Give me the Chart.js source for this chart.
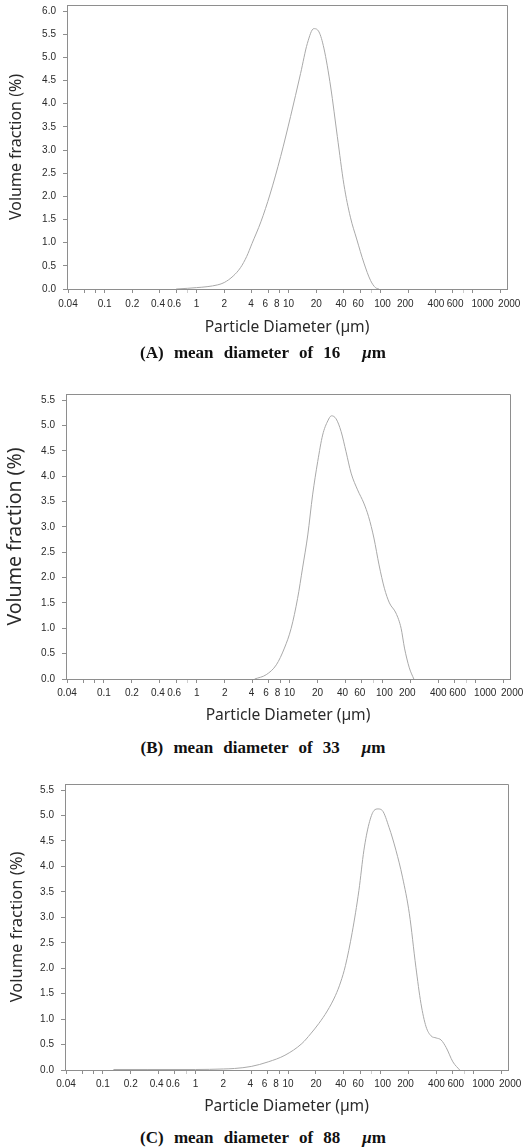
<!DOCTYPE html>
<html>
<head>
<meta charset="utf-8">
<script src="https://cdn.jsdelivr.net/npm/chart.js@4.4.1/dist/chart.umd.min.js"></script>
<style>
  html, body { margin: 0; padding: 0; background: #fff; }
  body { width: 526px; height: 1148px; position: relative; overflow: hidden; }
  .plot { position: absolute; left: 0; width: 526px; height: 345px; }
  .caption {
    position: absolute; left: 0; width: 526px; text-align: center;
    font-family: "Liberation Serif", "DejaVu Serif", serif; font-weight: bold;
    font-size: 17px; line-height: 20px; color: #111; word-spacing: 6px;
  }
  .caption .unit { margin-left: 22px; }
</style>
</head>
<body>
<div class="plot" style="top:0px"><canvas id="chartA"></canvas></div>
<div class="caption" style="top:343px">(A) mean diameter of 16<span class="unit"><i>μ</i>m</span></div>
<div class="plot" style="top:385px"><canvas id="chartB"></canvas></div>
<div class="caption" style="top:738px">(B) mean diameter of 33<span class="unit"><i>μ</i>m</span></div>
<div class="plot" style="top:775px"><canvas id="chartC"></canvas></div>
<div class="caption" style="top:1128px">(C) mean diameter of 88<span class="unit"><i>μ</i>m</span></div>

<script>
// Particle size distributions (diameter in µm, volume fraction in %)
const diameterA = [0.6, 0.8, 1.0, 1.3, 1.7, 2.0, 2.5, 3.0, 3.5, 4.0, 5.0, 6.3, 8.2, 10.5, 13.5, 16.0, 18.8, 21.4, 24.2, 28.7, 33.9, 40, 47, 55, 66, 78, 88, 96];
const volumeA   = [0.0, 0.015, 0.03, 0.05, 0.09, 0.14, 0.28, 0.46, 0.70, 0.98, 1.45, 2.05, 2.86, 3.72, 4.65, 5.3, 5.62, 5.55, 5.2, 4.36, 3.29, 2.25, 1.55, 1.08, 0.56, 0.18, 0.03, 0.0];

const diameterB = [4.2, 5.6, 7.2, 8.8, 10.4, 12.2, 13.8, 15.7, 17.7, 20.1, 22.7, 25.8, 28.3, 31.7, 35.9, 40.6, 46, 54, 63, 71, 81, 92, 105, 119, 140, 159, 173, 195, 218];
const volumeB   = [0.0, 0.085, 0.28, 0.61, 1.0, 1.59, 2.19, 2.84, 3.63, 4.29, 4.81, 5.09, 5.19, 5.13, 4.88, 4.48, 4.06, 3.73, 3.47, 3.2, 2.78, 2.25, 1.79, 1.5, 1.3, 1.0, 0.61, 0.22, 0.0];

const diameterC = [0.13, 0.3, 1.0, 2.0, 2.64, 4.0, 6.1, 9.25, 14.1, 17.5, 21.4, 26.5, 32.4, 37, 41.6, 49.2, 58.2, 65.9, 74.8, 84.8, 93.7, 104, 123, 146, 172, 204, 240, 272, 309, 350, 397, 449, 510, 602, 713];
const volumeC   = [0.01, 0.01, 0.01, 0.02, 0.03, 0.07, 0.16, 0.29, 0.52, 0.71, 0.91, 1.16, 1.46, 1.73, 2.05, 2.7, 3.53, 4.32, 4.84, 5.1, 5.13, 5.1, 4.77, 4.32, 3.79, 3.07, 2.02, 1.31, 0.85, 0.67, 0.63, 0.59, 0.44, 0.16, 0.0];

// Axis ticks
const xTickValues = [0.04, 0.06, 0.08, 0.1, 0.2, 0.4, 0.6, 0.8, 1, 2, 4, 6, 8, 10, 20, 40, 60, 80, 100, 200, 400, 600, 800, 1000, 2000];
const xTickLabels = ['0.04', '0.1', '0.2', '0.4', '0.6', '1', '2', '4', '6', '8', '10', '20', '40', '60', '100', '200', '400', '600', '1000', '2000'];
const xMinorTicks = [0.8, 80, 800];
const yTicksA = [0, 0.5, 1, 1.5, 2, 2.5, 3, 3.5, 4, 4.5, 5, 5.5, 6];
const yTicksBC = [0, 0.5, 1, 1.5, 2, 2.5, 3, 3.5, 4, 4.5, 5, 5.5];

const xTitle = 'Particle Diameter (µm)';
const yTitle = 'Volume fraction (%)';

// Sideways nudges (px) that keep crowded diameter labels apart
const xLabelNudge = { '0.4': -2, '0.6': -2, '4': -1, '6': -3, '8': -3, '40': -3, '60': -2, '100': 2, '200': -3, '600': 3, '1000': 10, '2000': 9 };

const FRAME = '#8e8e8e';
const CURVE = '#a9a9a9';
const TEXT = '#2a2a2a';
const TICK_FONT_SIZE = 10;
const tickFont = { family: '"Liberation Sans", Arial, sans-serif', size: TICK_FONT_SIZE };

// Top and right edges of the plot frame
const framePlugin = {
  id: 'frame',
  afterDraw(chart) {
    const { ctx, chartArea: { left, top, right, bottom } } = chart;
    ctx.save();
    ctx.strokeStyle = FRAME;
    ctx.lineWidth = 1;
    ctx.beginPath();
    ctx.moveTo(Math.round(left) + 0.5, Math.round(top) + 0.5);
    ctx.lineTo(Math.round(right) + 0.5, Math.round(top) + 0.5);
    ctx.lineTo(Math.round(right) + 0.5, Math.round(bottom) + 0.5);
    ctx.stroke();
    ctx.restore();
  }
};

// Diameter labels placed at the log-scale pixel of each value
const xLabelPlugin = {
  id: 'xLabels',
  afterDraw(chart, args, opts) {
    const s = chart.scales.x;
    const ctx = chart.ctx;
    ctx.save();
    ctx.font = TICK_FONT_SIZE + 'px ' + tickFont.family;
    ctx.fillStyle = TEXT;
    ctx.textAlign = 'center';
    ctx.textBaseline = 'middle';
    const y = s.top + 4 + opts.pad + TICK_FONT_SIZE * 0.6;
    xTickLabels.forEach((lbl) => {
      const px = s.getPixelForValue(Number(lbl)) + (xLabelNudge[lbl] || 0);
      ctx.fillText(lbl, px, y);
    });
    ctx.restore();
  }
};

function makeChart(id, xs, ys, yTicks, g) {
  const points = xs.map((x, i) => ({ x: x, y: ys[i] }));
  return new Chart(document.getElementById(id), {
    type: 'line',
    data: {
      datasets: [{
        data: points,
        borderColor: CURVE,
        borderWidth: 1,
        pointRadius: 0,
        fill: false,
        cubicInterpolationMode: 'monotone'
      }]
    },
    options: {
      responsive: true,
      maintainAspectRatio: false,
      animation: false,
      layout: { padding: { top: g.top, right: g.right, bottom: 0, left: 0 } },
      plugins: {
        legend: { display: false },
        tooltip: { enabled: false },
        xLabels: { pad: g.xLabelPad }
      },
      scales: {
        x: {
          type: 'logarithmic',
          min: 0.039,
          max: 2370,
          afterBuildTicks: (s) => { s.ticks = xTickValues.map(v => ({ value: v })); },
          afterFit: (s) => { s.height = g.xAxisHeight; s.paddingLeft = 0; s.paddingRight = 0; },
          grid: {
            drawOnChartArea: false,
            drawTicks: true,
            tickLength: 4,
            tickColor: (c) => (c.tick && xMinorTicks.includes(c.tick.value)) ? '#cfcfcf' : FRAME
          },
          border: { display: true, color: FRAME, width: 1 },
          ticks: { display: false, autoSkip: false, maxRotation: 0, minRotation: 0 },
          title: {
            display: true,
            text: xTitle,
            color: TEXT,
            font: { family: '"Noto Sans", sans-serif', size: 15.6 },
            padding: { top: 0, bottom: g.xTitlePad }
          }
        },
        y: {
          type: 'linear',
          min: 0,
          max: g.yMax,
          afterBuildTicks: (s) => { s.ticks = yTicks.map(v => ({ value: v })); },
          afterFit: (s) => { s.width = g.left; s.paddingTop = 0; s.paddingBottom = 0; },
          grid: {
            drawOnChartArea: false,
            drawTicks: true,
            tickLength: 4,
            tickColor: FRAME
          },
          border: { display: true, color: FRAME, width: 1 },
          ticks: {
            padding: 7,
            color: TEXT,
            font: tickFont,
            callback: (v) => Number(v).toFixed(1)
          },
          title: {
            display: true,
            text: yTitle,
            color: TEXT,
            font: { family: '"Noto Sans", sans-serif', size: g.yTitleSize },
            padding: { top: g.yTitlePad, bottom: 0 }
          }
        }
      }
    },
    plugins: [framePlugin, xLabelPlugin]
  });
}

makeChart('chartA', diameterA, volumeA, yTicksA,
  { top: 5, right: 19, left: 67, xAxisHeight: 56, xLabelPad: 5, xTitlePad: 7.6, yTitleSize: 16, yTitlePad: 7, yMax: 6.13 });
makeChart('chartB', diameterB, volumeB, yTicksBC,
  { top: 9, right: 16, left: 66, xAxisHeight: 51, xLabelPad: 4, xTitlePad: 4.6, yTitleSize: 19.5, yTitlePad: 4, yMax: 5.62 });
makeChart('chartC', diameterC, volumeC, yTicksBC,
  { top: 9, right: 18, left: 65, xAxisHeight: 50, xLabelPad: 4, xTitlePad: 3.9, yTitleSize: 16.5, yTitlePad: 7, yMax: 5.62 });
</script>
</body>
</html>
